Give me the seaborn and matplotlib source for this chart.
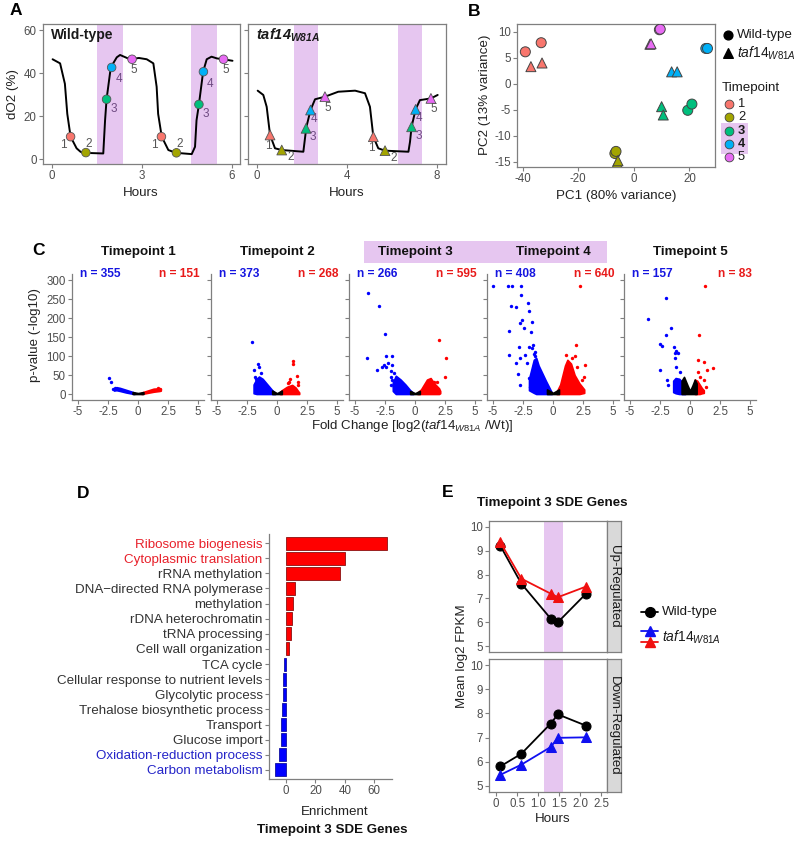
"""Multi-panel figure: dO2 traces, PCA, volcano plots, GO enrichment and mean FPKM."""
import matplotlib
matplotlib.use("Agg")
import matplotlib.pyplot as plt
from matplotlib.patches import Rectangle
import numpy as np
import pandas as pd
import seaborn as sns

sns.set_theme(style="white")
plt.rcParams["font.family"] = ["Liberation Sans", "DejaVu Sans"]
plt.rcParams["mathtext.fontset"] = "custom"
plt.rcParams["mathtext.rm"] = "Liberation Sans"
plt.rcParams["mathtext.it"] = "Liberation Sans:italic"
plt.rcParams["mathtext.bf"] = "Liberation Sans:bold"
plt.rcParams["mathtext.bfit"] = "Liberation Sans:italic:bold"
plt.rcParams["axes.unicode_minus"] = False

# ---------------- data ----------------
# A: dissolved oxygen traces
WT_HOURS = [0.02, 0.27, 0.43, 0.51, 0.62, 0.82, 0.95, 1.04, 1.71, 1.77, 1.82, 1.96, 2.16, 2.27,
            2.6, 2.9, 3.16, 3.38, 3.49, 3.54, 3.66, 3.88, 4.13, 4.66, 4.77, 4.82, 4.9, 5.04,
            5.16, 5.32, 5.5, 5.71, 6.02]
WT_DO2 = [46.4, 44.5, 35, 21, 10.4, 5, 3.4, 2.9, 2.6, 18, 27.8, 42.6, 47.3, 48.4,
          46.4, 47.0, 46.4, 44.5, 33.6, 21, 10.4, 4.2, 2.9, 2.3, 5.7, 18, 25.4, 40.6,
          46.4, 47.6, 46.8, 46.4, 45.7]
TAF_HOURS = [0.03, 0.28, 0.43, 0.58, 0.8, 1.1, 2.06, 2.16, 2.18, 2.38, 2.58, 3.02, 3.61,
             4.36, 4.8, 5.02, 5.17, 5.39, 5.69, 6.73, 6.8, 6.87, 7.05, 7.24, 7.73, 8.03]
TAF_DO2 = [31.8, 29.8, 24.3, 11.2, 5, 4.2, 3.4, 12, 14.3, 22.8, 27.8, 29, 31.3,
           31.8, 30.6, 24.3, 10.4, 5, 3.9, 3.4, 8, 15, 23.1, 27.4, 28.2, 29.8]
TP_LABELS = ["1", "2", "3", "4", "5", "1", "2", "3", "4", "5"]
WT_TP_HOURS = [0.62, 1.13, 1.82, 1.99, 2.67, 3.65, 4.15, 4.9, 5.05, 5.72]
WT_TP_DO2 = [10.4, 3.0, 27.8, 42.6, 46.4, 10.4, 2.9, 25.4, 40.6, 46.4]
TAF_TP_HOURS = [0.58, 1.1, 2.18, 2.38, 3.02, 5.17, 5.69, 6.87, 7.05, 7.73]
TAF_TP_DO2 = [11.2, 4.2, 14.3, 22.8, 29.0, 10.4, 3.9, 15.0, 23.1, 28.2]
WT_BANDS = [(1.51, 2.37), (4.64, 5.49)]
TAF_BANDS = [(1.66, 2.70), (6.28, 7.35)]

# B: PCA
PCA_GENOTYPE = ["Wild-type"] * 10 + ["taf14"] * 10
PCA_TIMEPOINT = ["1", "1", "2", "2", "3", "3", "4", "4", "5", "5"] * 2
PC1 = [-39.0, -33.3, -6.8, -6.4, 19.4, 20.9, 25.9, 26.5, 9.2, 9.5,
       -37.0, -33.0, -6.0, -5.7, 10.0, 10.6, 13.6, 15.6, 5.8, 6.2]
PC2 = [6.15, 7.9, -13.4, -13.0, -5.1, -3.9, 6.8, 6.8, 10.4, 10.5,
       3.3, 4.0, -15.2, -14.8, -4.4, -6.0, 2.3, 2.3, 7.6, 7.7]

# C: volcano plots, clouds as (fold change, low, high) envelopes, plus single dots
N_DOWN = [355, 373, 266, 408, 157]
N_UP = [151, 268, 595, 640, 83]
BLUE_CLOUD = {
    1: [(-2.0, 9, 14), (-1.8, 10, 18), (-1.5, 8, 16), (-1.0, 4, 11), (-0.5, 1, 6), (-0.3, 0, 4)],
    2: [(-1.95, 2, 25), (-1.7, 0, 40), (-1.5, 0, 46), (-1.2, 0, 40), (-0.8, 0, 25), (-0.4, 0, 10), (-0.15, 0, 3)],
    3: [(-1.85, 8, 30), (-1.6, 0, 48), (-1.2, 0, 38), (-0.8, 0, 25), (-0.4, 0, 10), (-0.15, 0, 3)],
    4: [(-2.0, 10, 40), (-1.6, 3, 90), (-1.4, 0, 95), (-1.2, 0, 75), (-0.9, 0, 55), (-0.6, 0, 35), (-0.2, 0, 10), (-0.1, 0, 4)],
    5: [(-1.4, 5, 35), (-1.2, 2, 42), (-0.9, 0, 40), (-0.6, 0, 30), (-0.4, 0, 12)],
}
BLACK_CLOUD = {
    1: [(-0.45, 0, 5), (0.0, 0, 2.5), (0.45, 0, 5)],
    2: [(-0.4, 0, 9), (0.0, 0, 2), (0.4, 0, 9)],
    3: [(-0.4, 0, 8), (0.0, 0, 2), (0.4, 0, 8)],
    4: [(-0.5, 0, 12), (0.0, 0, 3), (0.5, 0, 12)],
    5: [(-0.7, 0, 35), (-0.5, 0, 45), (-0.2, 0, 22), (0.0, 0, 8), (0.2, 0, 22), (0.4, 0, 38), (0.55, 0, 28)],
}
RED_CLOUD = {
    1: [(0.3, 0, 4), (0.8, 3, 9), (1.3, 6, 14), (1.8, 8, 15), (1.9, 9, 13)],
    2: [(0.25, 0, 5), (0.4, 0, 10), (0.83, 0, 19), (1.26, 0, 24), (1.55, 0, 17), (1.75, 0, 8), (1.85, 0, 4)],
    3: [(0.2, 0, 4), (0.5, 0, 12), (1.0, 0, 38), (1.3, 0, 42), (1.6, 0, 28), (2.0, 0, 15), (2.1, 2, 8)],
    4: [(0.3, 0, 6), (0.6, 0, 25), (1.0, 0, 75), (1.2, 0, 90), (1.5, 0, 80), (1.8, 0, 50), (2.2, 0, 28), (2.6, 3, 12)],
    5: [(0.4, 0, 38), (0.6, 0, 35), (0.8, 0, 25), (1.0, 2, 15), (1.15, 3, 10)],
}
BLUE_DOTS = {
    1: [(-2.45, 43), (-2.25, 31), (-2.05, 13), (-1.95, 16)],
    2: [(-2.1, 138), (-1.6, 78), (-1.47, 72), (-1.95, 63), (-1.32, 54), (-1.75, 39), (-1.52, 28), (-1.85, 45)],
    3: [(-3.9, 265), (-3.0, 232), (-2.47, 158), (-3.97, 94), (-2.38, 100), (-1.9, 101), (-3.2, 63),
        (-2.76, 70), (-2.6, 76), (-2.27, 82), (-2.38, 70), (-1.9, 76), (-2.04, 60), (-1.75, 54),
        (-2.04, 46), (-1.9, 37), (-2.0, 24), (-1.75, 19)],
    4: [(-4.97, 285), (-3.76, 285), (-3.42, 285), (-2.7, 285), (-2.67, 261), (-3.48, 232), (-3.05, 230),
        (-2.1, 240), (-2.04, 219), (-2.61, 196), (-2.76, 188), (-2.38, 175), (-1.75, 189), (-3.68, 166),
        (-1.81, 164), (-2.84, 125), (-2.04, 125), (-1.67, 129), (-3.68, 103), (-1.75, 120), (-1.47, 111),
        (-2.76, 94), (-2.33, 103), (-2.18, 81), (-3.05, 81), (-2.9, 52), (-2.76, 24), (-1.9, 19),
        (-2.04, 41), (-1.6, 76), (-1.47, 59), (-1.55, 105), (-1.5, 100)],
    5: [(-1.98, 252), (-3.53, 197), (-1.61, 175), (-2.03, 154), (-2.46, 131), (-2.32, 127), (-1.33, 125),
        (-1.13, 113), (-0.99, 107), (-1.21, 107), (-2.54, 63), (-1.13, 72), (-1.27, 94), (-1.89, 37),
        (-1.84, 24), (-0.85, 59)],
}
RED_DOTS = {
    1: [(1.85, 14), (1.7, 15)],
    2: [(1.35, 86), (1.32, 80), (1.12, 40), (1.0, 32), (0.9, 28), (1.64, 47), (1.75, 32), (1.75, 24)],
    3: [(2.04, 142), (2.56, 96), (2.47, 44), (1.84, 31), (1.55, 32)],
    4: [(2.21, 285), (1.93, 129), (1.12, 103), (1.84, 101), (2.7, 76), (2.56, 46), (2.41, 37), (1.6, 95), (2.0, 70)],
    5: [(1.27, 285), (0.76, 154), (0.7, 89), (1.13, 85), (1.92, 68), (1.41, 63), (0.7, 59), (1.13, 37),
        (1.33, 19), (0.85, 46)],
}

# D: GO enrichment
GO_TERMS = ["Ribosome biogenesis", "Cytoplasmic translation", "rRNA methylation",
            "DNA\u2212directed RNA polymerase", "methylation", "rDNA heterochromatin",
            "tRNA processing", "Cell wall organization", "TCA cycle",
            "Cellular response to nutrient levels", "Glycolytic process",
            "Trehalose biosynthetic process", "Transport", "Glucose import",
            "Oxidation-reduction process", "Carbon metabolism"]
GO_ENRICH = [68.7, 40.3, 37.0, 5.9, 4.5, 4.1, 3.6, 2.0,
             -1.6, -2.0, -2.3, -2.7, -3.2, -3.2, -5.0, -7.3]
GO_LABEL_COLORS = ["#E8202A", "#E8202A"] + ["#333333"] * 12 + ["#2424C8", "#2424C8"]

# E: mean log2 FPKM of timepoint 3 SDE genes
E_HOURS = [0.1, 0.6, 1.3, 1.47, 2.13]
UP_WT = [9.21, 7.62, 6.15, 6.0, 7.18]
UP_TAF = [9.35, 7.83, 7.2, 7.05, 7.49]
DOWN_WT = [5.81, 6.33, 7.58, 7.96, 7.5]
DOWN_TAF = [5.46, 5.88, 6.61, 6.99, 7.01]

# ---------------- styling ----------------
W, H = 800, 841
GRAY = "#7f7f7f"
TICK = "#4D4D4D"
BAND = "#E6C6F0"
TP_COLORS = {"1": "#F8766D", "2": "#A3A500", "3": "#00BF7D", "4": "#00B0F6", "5": "#E76BF3"}
FS_TICK = 8.3
FS_LAB = 9.6
PT = 0.72  # points per pixel at 100 dpi

fig = plt.figure(figsize=(W / 100, H / 100), dpi=100)


def add_ax(l, t, r, b):
    return fig.add_axes([l / W, 1 - b / H, (r - l) / W, (b - t) / H])


def style(ax, box=True):
    for side, sp in ax.spines.items():
        sp.set_color(GRAY)
        sp.set_linewidth(0.9)
        if not box and side in ("top", "right"):
            sp.set_visible(False)
    ax.tick_params(axis="both", colors=GRAY, labelcolor=TICK, labelsize=FS_TICK,
                   length=3, width=0.8, pad=1.5, left=True, bottom=True)
    ax.set_xlabel("")
    ax.set_ylabel("")


# ---------------- A ----------------
axA1 = add_ax(43, 24, 240, 164)
axA2 = add_ax(248, 24, 446, 164)
WT_OFF = [(-7, 8), (3, -9), (7, 10), (7, 12), (2, 11)] * 2
TAF_OFF = [(-2, 11), (9, 7), (7, 9), (3, 9), (3, 11)] * 2
panels_A = [
    (axA1, WT_HOURS, WT_DO2, WT_TP_HOURS, WT_TP_DO2, WT_BANDS, "o", [0, 3, 6], (-0.3, 6.27), WT_OFF),
    (axA2, TAF_HOURS, TAF_DO2, TAF_TP_HOURS, TAF_TP_DO2, TAF_BANDS, "^", [0, 4, 8], (-0.4, 8.4), TAF_OFF),
]
for ax, hrs, do2, tph, tpy, bands, mk, xt, xl, offs in panels_A:
    for b0, b1 in bands:
        ax.axvspan(b0, b1, color=BAND, lw=0, zorder=0)
    sns.lineplot(x=hrs, y=do2, ax=ax, color="black", lw=1.4, sort=False, estimator=None, zorder=2)
    df = pd.DataFrame({"h": tph, "y": tpy, "tp": TP_LABELS})
    sns.scatterplot(data=df, x="h", y="y", hue="tp", palette=TP_COLORS, marker=mk,
                    s=38 if mk == "o" else 50, edgecolor="#555555", linewidth=0.6,
                    legend=False, ax=ax, zorder=3)
    for h, y, lab, (dx, dy) in zip(tph, tpy, TP_LABELS, offs):
        col = "#6E4A82" if lab in ("3", "4") else "#555555"
        ax.annotate(lab, (h, y), xytext=(dx * PT, -dy * PT), textcoords="offset points",
                    ha="center", va="center", fontsize=8.5, color=col)
    ax.set_xlim(*xl)
    ax.set_ylim(-2.3, 62.8)
    ax.set_xticks(xt)
    ax.set_yticks([0, 20, 40, 60])
    style(ax)
axA2.set_yticklabels([])
axA1.text(0.04, 0.92, "Wild-type", transform=axA1.transAxes, fontsize=10, weight="bold",
          ha="left", va="center", color="#1a1a1a")
axA2.text(0.04, 0.92, r"$\mathbfit{taf14}_{\mathbfit{W81A}}$", transform=axA2.transAxes,
          fontsize=10.5, ha="left", va="center", color="#1a1a1a")

# ---------------- B ----------------
axB = add_ax(517, 24, 715, 167)
dfB = pd.DataFrame({"PC1": PC1, "PC2": PC2, "geno": PCA_GENOTYPE, "tp": PCA_TIMEPOINT})
sns.scatterplot(data=dfB, x="PC1", y="PC2", hue="tp", palette=TP_COLORS, style="geno",
                markers={"Wild-type": "o", "taf14": "^"}, s=52, edgecolor="#444444",
                linewidth=0.7, legend=False, ax=axB, zorder=3)
axB.set_xlim(-42, 29.2)
axB.set_ylim(-16.0, 11.5)
axB.set_xticks([-40, -20, 0, 20])
axB.set_yticks([10, 5, 0, -5, -10, -15])
style(axB)

# ---------------- C ----------------
C_LEFTS = [72, 211, 349, 487, 624]
axC = []
for i, left in enumerate(C_LEFTS):
    tp = i + 1
    ax = add_ax(left, 274.3, left + 132, 399.7)
    axC.append(ax)
    for cloud, col in [(BLUE_CLOUD, "blue"), (RED_CLOUD, "red"), (BLACK_CLOUD, "black")]:
        xs, lo, hi = zip(*cloud[tp])
        ax.fill_between(xs, lo, hi, color=col, lw=1.2, edgecolor=col, zorder=2)
    for dots, col in [(BLUE_DOTS, "blue"), (RED_DOTS, "red")]:
        dx, dy = zip(*dots[tp])
        sns.scatterplot(x=list(dx), y=list(dy), color=col, s=6, linewidth=0, ax=ax, zorder=3)
    ax.set_xlim(-5.5, 5.5)
    ax.set_ylim(-15, 315)
    ax.set_xticks([-5, -2.5, 0, 2.5, 5])
    ax.set_xticklabels(["-5", "-2.5", "0", "2.5", "5"])
    ax.set_yticks([0, 50, 100, 150, 200, 250, 300])
    style(ax, box=False)
    if i > 0:
        ax.set_yticklabels([])
    ax.text(0.06, 1.0, f"n = {N_DOWN[i]}", transform=ax.transAxes, color="#1515E0",
            weight="bold", fontsize=8.6, ha="left", va="center")
    ax.text(0.965, 1.0, f"n = {N_UP[i]}", transform=ax.transAxes, color="#E81A1A",
            weight="bold", fontsize=8.6, ha="right", va="center")

# ---------------- D ----------------
axD = add_ax(269, 534, 392, 779)
dfD = pd.DataFrame({"term": GO_TERMS, "enrich": GO_ENRICH,
                    "dir": ["up" if v > 0 else "down" for v in GO_ENRICH]})
sns.barplot(data=dfD, x="enrich", y="term", hue="dir", palette={"up": "#FF0000", "down": "#0000FF"},
            orient="h", dodge=False, width=0.86, saturation=1, legend=False, ax=axD, zorder=2)
for p in axD.patches:
    fc = p.get_facecolor()
    p.set_edgecolor("#8B1010" if fc[0] > 0.5 else "#1010A0")
    p.set_linewidth(0.6)
axD.set_xlim(-11.5, 72)
axD.set_ylim(15.6, -0.6)
axD.set_xticks([0, 20, 40, 60])
style(axD, box=False)
axD.tick_params(axis="y", labelsize=9.6)
for lab, col in zip(axD.get_yticklabels(), GO_LABEL_COLORS):
    lab.set_color(col)

# ---------------- E ----------------
axE1 = add_ax(489, 521, 607, 652)
axE2 = add_ax(489, 659, 607, 792)
for ax, wt, taf, tcol, strip, (t, b) in [
        (axE1, UP_WT, UP_TAF, "#F01010", "Up-Regulated", (521, 652)),
        (axE2, DOWN_WT, DOWN_TAF, "#1010F0", "Down-Regulated", (659, 792))]:
    ax.axvspan(1.15, 1.59, color=BAND, lw=0, zorder=0)
    sns.lineplot(x=E_HOURS, y=wt, ax=ax, color="black", lw=1.3, marker="o", markersize=6.5,
                 markeredgecolor="black", estimator=None, zorder=3)
    sns.lineplot(x=E_HOURS, y=taf, ax=ax, color=tcol, lw=1.3, marker="^", markersize=7.5,
                 markeredgecolor=tcol, estimator=None, zorder=3)
    ax.set_xlim(-0.17, 2.64)
    ax.set_ylim(4.75, 10.25)
    ax.set_yticks([5, 6, 7, 8, 9, 10])
    ax.set_xticks([0, 0.5, 1.0, 1.5, 2.0, 2.5])
    ax.set_xticklabels(["0", "0.5", "1.0", "1.5", "2.0", "2.5"])
    style(ax)
    sax = add_ax(607, t, 621, b)
    sax.set_facecolor("#D9D9D9")
    for sp in sax.spines.values():
        sp.set_color(GRAY)
        sp.set_linewidth(0.9)
    sax.set_xticks([])
    sax.set_yticks([])
    sax.text(0.5, 0.5, strip, rotation=270, ha="center", va="center", fontsize=9.6,
             color="#1a1a1a", transform=sax.transAxes)
axE1.tick_params(axis="x", labelbottom=False, length=0)

# ---------------- overlay: letters, titles, legends ----------------
ov = fig.add_axes([0, 0, 1, 1])
ov.set_xlim(0, W)
ov.set_ylim(H, 0)
ov.axis("off")
ov.patch.set_visible(False)

for letter, x, y in [("A", 10, 10), ("B", 468, 11), ("C", 32, 250), ("D", 77, 493), ("E", 442, 492)]:
    ov.text(x, y, letter, fontsize=12.5, weight="bold", ha="left", va="center", color="black")

# A labels
ov.text(13, 94, "dO2 (%)", rotation=90, ha="center", va="center", fontsize=FS_LAB, color="#222222")
ov.text(141, 193, "Hours", ha="center", va="center", fontsize=FS_LAB, color="#222222")
ov.text(347, 193, "Hours", ha="center", va="center", fontsize=FS_LAB, color="#222222")

# B labels + legend
ov.text(616, 196, "PC1 (80% variance)", ha="center", va="center", fontsize=FS_LAB, color="#222222")
ov.text(485, 95, "PC2 (13% variance)", rotation=90, ha="center", va="center", fontsize=FS_LAB,
        color="#222222")
ov.scatter([728], [35], marker="o", s=40, color="black", zorder=3)
ov.text(737, 35, "Wild-type", ha="left", va="center", fontsize=9.6, color="#1a1a1a")
ov.scatter([728], [53], marker="^", s=48, color="black", zorder=3)
ov.text(737, 53, r"$\mathit{taf14}_{\mathit{W81A}}$", ha="left", va="center", fontsize=10,
        color="#1a1a1a")
ov.text(722, 88, "Timepoint", ha="left", va="center", fontsize=9.6, color="#1a1a1a")
ov.add_patch(Rectangle((721, 123), 27, 31, color=BAND, lw=0, zorder=1))
for k, tp in enumerate(["1", "2", "3", "4", "5"]):
    yy = 104 + 13.3 * k
    ov.scatter([729], [yy], marker="o", s=40, color=TP_COLORS[tp], edgecolor="#444444",
               linewidth=0.6, zorder=3)
    ov.text(738, yy, tp, ha="left", va="center", fontsize=9.3, color="#1a1a1a",
            weight="bold" if tp in ("3", "4") else "normal")

# C titles + labels
ov.add_patch(Rectangle((364, 241), 243, 22, color=BAND, lw=0, zorder=1))
for i, left in enumerate(C_LEFTS):
    ov.text(left + 66, 252, f"Timepoint {i + 1}", ha="center", va="center", fontsize=9.6,
            weight="bold", color="#111111", zorder=2)
ov.text(35, 335, "p-value (-log10)", rotation=90, ha="center", va="center", fontsize=FS_LAB,
        color="#222222")
ov.text(412, 426, r"Fold Change [log2($\mathit{taf14}_{\mathit{W81A}}$ /Wt)]", ha="center",
        va="center", fontsize=FS_LAB, color="#222222")

# D labels
ov.text(335, 812, "Enrichment", ha="center", va="center", fontsize=FS_LAB, color="#222222")
ov.text(332, 830, "Timepoint 3 SDE Genes", ha="center", va="center", fontsize=9.6,
        weight="bold", color="#111111")

# E labels + legend
ov.text(552, 503, "Timepoint 3 SDE Genes", ha="center", va="center", fontsize=9.6,
        weight="bold", color="#111111")
ov.text(462, 656, "Mean log2 FPKM", rotation=90, ha="center", va="center", fontsize=FS_LAB,
        color="#222222")
ov.text(553, 819, "Hours", ha="center", va="center", fontsize=FS_LAB, color="#222222")
for yy, col, mk in [(612, "black", "o"), (631, "#1010F0", "^"), (642, "#F01010", "^")]:
    ov.plot([641, 658], [yy, yy], color=col, lw=1.3)
    ov.plot([649.5], [yy], marker=mk, color=col, markersize=7)
ov.text(662, 612, "Wild-type", ha="left", va="center", fontsize=9.6, color="#1a1a1a")
ov.text(662, 637, r"$\mathit{taf14}_{\mathit{W81A}}$", ha="left", va="center", fontsize=10,
        color="#1a1a1a")

fig.savefig("out.png", dpi=100)
